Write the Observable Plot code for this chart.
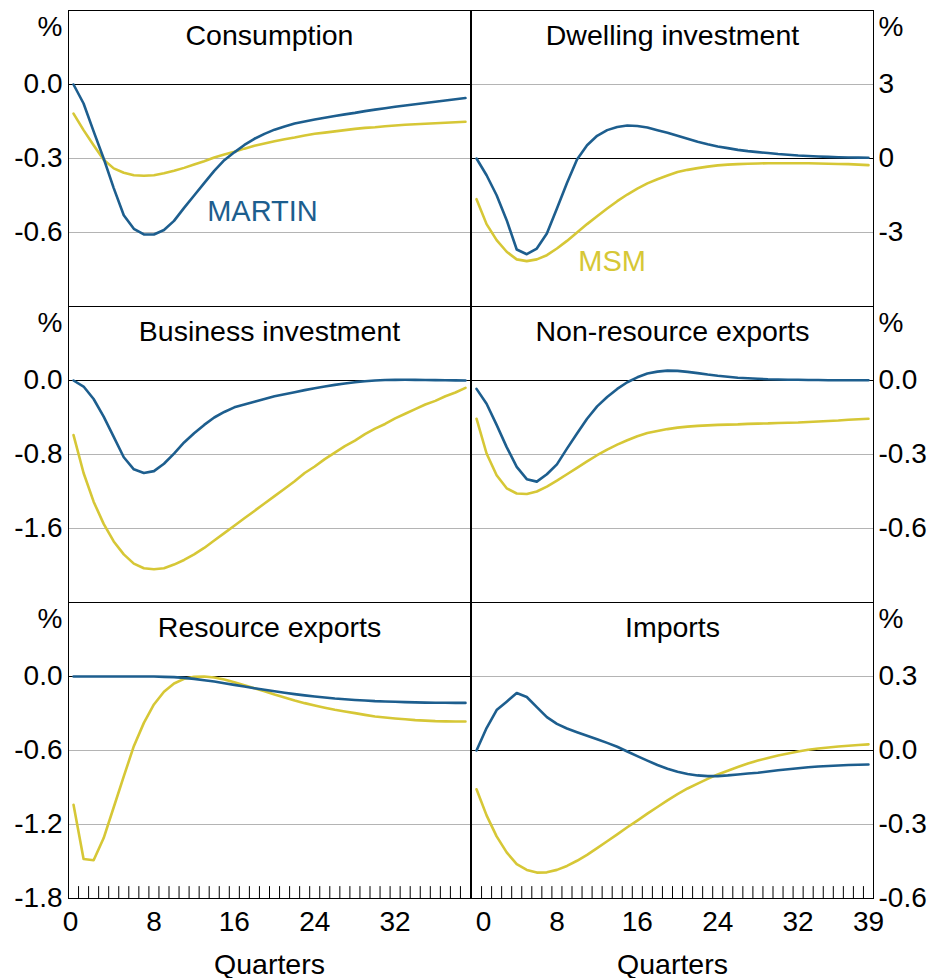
<!DOCTYPE html>
<html><head><meta charset="utf-8">
<script src="https://cdn.jsdelivr.net/npm/d3@7"></script>
<script src="https://cdn.jsdelivr.net/npm/@observablehq/plot@0.6"></script>
<style>
body{margin:0;background:#fff;}
#chart{position:relative;width:933px;height:978px;font-family:"Liberation Sans",Arial,sans-serif;}
#chart svg{position:absolute;overflow:visible;}
</style></head><body><div id="chart"></div>
<script>
const quarters = d3.range(0, 40);
const minorTicks = d3.range(0.5, 39, 1);

const consumptionMartin = [0,-0.077,-0.19,-0.30,-0.42,-0.53,-0.585,-0.608,-0.608,-0.59,-0.553,-0.50,-0.45,-0.40,-0.35,-0.307,-0.275,-0.245,-0.22,-0.20,-0.183,-0.17,-0.158,-0.15,-0.142,-0.135,-0.128,-0.121,-0.115,-0.108,-0.102,-0.096,-0.09,-0.085,-0.08,-0.075,-0.07,-0.065,-0.06,-0.055];
const consumptionMsm = [-0.118,-0.185,-0.246,-0.305,-0.34,-0.358,-0.368,-0.37,-0.368,-0.36,-0.35,-0.338,-0.324,-0.311,-0.296,-0.284,-0.273,-0.26,-0.248,-0.239,-0.23,-0.222,-0.215,-0.207,-0.2,-0.195,-0.19,-0.185,-0.18,-0.176,-0.173,-0.169,-0.166,-0.163,-0.161,-0.159,-0.157,-0.155,-0.153,-0.151];

const dwellingMartin = [0,-0.68,-1.49,-2.5,-3.69,-3.88,-3.65,-3.04,-2.03,-0.99,-0.04,0.54,0.92,1.15,1.28,1.34,1.32,1.26,1.15,1.04,0.92,0.8,0.68,0.58,0.49,0.42,0.35,0.3,0.26,0.22,0.18,0.15,0.12,0.1,0.08,0.065,0.05,0.04,0.035,0.03];
const dwellingMsm = [-1.65,-2.66,-3.31,-3.78,-4.09,-4.16,-4.09,-3.92,-3.65,-3.34,-3.0,-2.66,-2.34,-2.03,-1.73,-1.46,-1.22,-1.01,-0.84,-0.69,-0.55,-0.46,-0.39,-0.33,-0.28,-0.25,-0.23,-0.21,-0.2,-0.19,-0.19,-0.19,-0.19,-0.19,-0.2,-0.21,-0.22,-0.23,-0.25,-0.27];

const businessMartin = [0,-0.065,-0.2,-0.39,-0.61,-0.83,-0.96,-1.0,-0.98,-0.90,-0.79,-0.67,-0.57,-0.48,-0.40,-0.34,-0.29,-0.26,-0.23,-0.20,-0.17,-0.148,-0.126,-0.104,-0.083,-0.065,-0.047,-0.032,-0.018,-0.008,0,0.005,0.007,0.008,0.007,0.006,0.004,0.002,0.001,0];
const businessMsm = [-0.59,-1.0,-1.31,-1.55,-1.74,-1.88,-1.98,-2.03,-2.04,-2.03,-1.99,-1.94,-1.88,-1.81,-1.73,-1.65,-1.57,-1.49,-1.41,-1.33,-1.25,-1.17,-1.09,-1.0,-0.93,-0.85,-0.78,-0.71,-0.65,-0.58,-0.52,-0.47,-0.41,-0.36,-0.31,-0.26,-0.22,-0.17,-0.13,-0.08];

const nonResourceMartin = [-0.034,-0.094,-0.18,-0.27,-0.35,-0.40,-0.41,-0.38,-0.34,-0.276,-0.215,-0.155,-0.105,-0.067,-0.034,-0.007,0.013,0.028,0.036,0.04,0.039,0.035,0.03,0.024,0.019,0.015,0.011,0.009,0.007,0.005,0.004,0.003,0.003,0.002,0.002,0.001,0.001,0.001,0.001,0.001];
const nonResourceMsm = [-0.155,-0.296,-0.384,-0.437,-0.458,-0.46,-0.45,-0.43,-0.406,-0.38,-0.354,-0.328,-0.303,-0.28,-0.26,-0.242,-0.226,-0.213,-0.205,-0.197,-0.191,-0.187,-0.184,-0.182,-0.18,-0.179,-0.178,-0.176,-0.175,-0.174,-0.172,-0.171,-0.17,-0.168,-0.166,-0.164,-0.162,-0.159,-0.157,-0.155];

const resourceMartin = [0,0,0,0,0,0,0,0,0,-0.003,-0.005,-0.011,-0.019,-0.03,-0.04,-0.054,-0.068,-0.081,-0.095,-0.108,-0.12,-0.132,-0.143,-0.153,-0.162,-0.17,-0.178,-0.184,-0.19,-0.195,-0.2,-0.203,-0.205,-0.208,-0.21,-0.212,-0.213,-0.213,-0.214,-0.214];
const resourceMsm = [-1.04,-1.48,-1.49,-1.31,-1.06,-0.81,-0.565,-0.376,-0.227,-0.124,-0.057,-0.019,-0.003,0,-0.008,-0.024,-0.046,-0.07,-0.095,-0.119,-0.146,-0.17,-0.195,-0.216,-0.235,-0.253,-0.27,-0.284,-0.297,-0.311,-0.324,-0.332,-0.34,-0.347,-0.354,-0.358,-0.362,-0.364,-0.365,-0.365];

const importsMartin = [0,0.091,0.164,0.198,0.233,0.217,0.176,0.135,0.108,0.089,0.074,0.06,0.046,0.031,0.015,-0.004,-0.023,-0.041,-0.059,-0.074,-0.086,-0.095,-0.101,-0.104,-0.104,-0.101,-0.097,-0.093,-0.09,-0.085,-0.08,-0.076,-0.072,-0.068,-0.065,-0.063,-0.061,-0.059,-0.058,-0.057];
const importsMsm = [-0.157,-0.263,-0.348,-0.413,-0.461,-0.484,-0.495,-0.494,-0.484,-0.468,-0.447,-0.423,-0.396,-0.368,-0.34,-0.311,-0.284,-0.256,-0.229,-0.202,-0.177,-0.154,-0.134,-0.115,-0.097,-0.082,-0.067,-0.053,-0.041,-0.03,-0.02,-0.012,-0.004,0.003,0.008,0.012,0.016,0.019,0.022,0.025];

const titles = ["Consumption","Dwelling investment","Business investment","Non-resource exports","Resource exports","Imports"];
const yDomains = [[-0.9,0.3],[-6,6],[-2.4,0.8],[-0.9,0.3],[-1.8,0.6],[-0.6,0.6]];
const yTicks = [[0,-0.3,-0.6],[3,0,-3],[0,-0.8,-1.6],[0,-0.3,-0.6],[0,-0.6,-1.2,-1.8],[0.3,0,-0.3,-0.6]];
const yGrid = [[-0.3,-0.6],[3,-3],[-0.8,-1.6],[-0.3,-0.6],[-0.6,-1.2],[0.3,-0.3]];
const yDecimals = [1,0,1,1,1,1];
const martinSeries = [consumptionMartin,dwellingMartin,businessMartin,nonResourceMartin,resourceMartin,importsMartin];
const msmSeries = [consumptionMsm,dwellingMsm,businessMsm,nonResourceMsm,resourceMsm,importsMsm];
const xTicksLeft = [8,16,24,32];
const xTicksRight = [8,16,24,32,39];
const seriesNames = ["MARTIN","MSM"];
const labelPanels = [0,1];
const labelPos = [{q:18.8, v:-0.514},{q:13.5, v:-4.2}];

const BLUE = "#1d5e8e", YELLOW = "#d6c736", GRID = "#b4b4b4";
const FONT = '"Liberation Sans", Arial, sans-serif';
const tickShape = {draw(ctx, l){ctx.moveTo(0,0); ctx.lineTo(0,-l);}};

const chart = document.getElementById("chart");

for (let i = 0; i < 6; i++) {
  const col = i % 2, row = Math.floor(i / 2);
  const left = col === 0;
  const height = row === 0 ? 306 : row === 1 ? 296 : 376;
  const marginTop = row === 0 ? 10 : 0;
  const marginBottom = row === 2 ? 80 : 0;
  const width = left ? 470 : 463;
  const fmt = d => (Object.is(d, -0) ? 0 : d).toFixed(yDecimals[i]);
  const marks = [
    Plot.ruleY(yGrid[i], {stroke: GRID, strokeWidth: 1}),
    Plot.ruleY([0], {stroke: "black", strokeWidth: 1}),
    Plot.line(quarters, {x: d => d, y: (d, j) => msmSeries[i][j], stroke: YELLOW, strokeWidth: 2.6}),
    Plot.line(quarters, {x: d => d, y: (d, j) => martinSeries[i][j], stroke: BLUE, strokeWidth: 2.6}),
    Plot.frame({stroke: "black", strokeWidth: 1}),
    Plot.axisY({ticks: yTicks[i], anchor: left ? "left" : "right", tickSize: 0, tickPadding: left ? 6 : 5, tickFormat: fmt, fontSize: 28, label: null}),
    Plot.text(["%"], {frameAnchor: left ? "top-left" : "top-right", textAnchor: left ? "end" : "start", dx: left ? -6 : 5, dy: 25, lineAnchor: "bottom", fontSize: 28}),
    Plot.text([titles[i]], {frameAnchor: "top", dy: 34, lineAnchor: "bottom", fontSize: 28.5})
  ];
  const li = labelPanels.indexOf(i);
  if (li >= 0) {
    marks.push(Plot.text([seriesNames[li]], {x: () => labelPos[li].q, y: () => labelPos[li].v, fill: li === 0 ? BLUE : YELLOW, fontSize: 29}));
  }
  if (row === 2) {
    marks.push(
      Plot.vectorX(minorTicks, {x: d => d, frameAnchor: "bottom", length: 12, anchor: "start", shape: tickShape, stroke: "black", strokeWidth: 1}),
      Plot.axisX({ticks: left ? xTicksLeft : xTicksRight, anchor: "bottom", tickSize: 0, tickPadding: 13, fontSize: 28, tickFormat: d => String(d), label: null}),
      Plot.axisX({ticks: [0], anchor: "bottom", tickSize: 0, tickPadding: 13, dx: left ? -3 : 7, fontSize: 28, tickFormat: d => String(d), label: null}),
      Plot.text(["Quarters"], {frameAnchor: "bottom", dy: 75, lineAnchor: "bottom", fontSize: 28.5})
    );
  }
  const svg = Plot.plot({
    width, height,
    marginTop, marginBottom,
    marginLeft: left ? 68 : 1,
    marginRight: left ? 0 : 60,
    style: {fontFamily: FONT, fontSize: "28px", overflow: "visible", background: "transparent", color: "black"},
    x: {domain: [-0.5, 39.5], label: null, ...(row === 2 ? {} : {axis: null})},
    y: {domain: yDomains[i], label: null},
    marks
  });
  svg.style.left = (left ? 0 : 470) + "px";
  svg.style.top = (row === 0 ? 0 : row === 1 ? 306 : 602) + "px";
  chart.appendChild(svg);
}
</script>
</body></html>
